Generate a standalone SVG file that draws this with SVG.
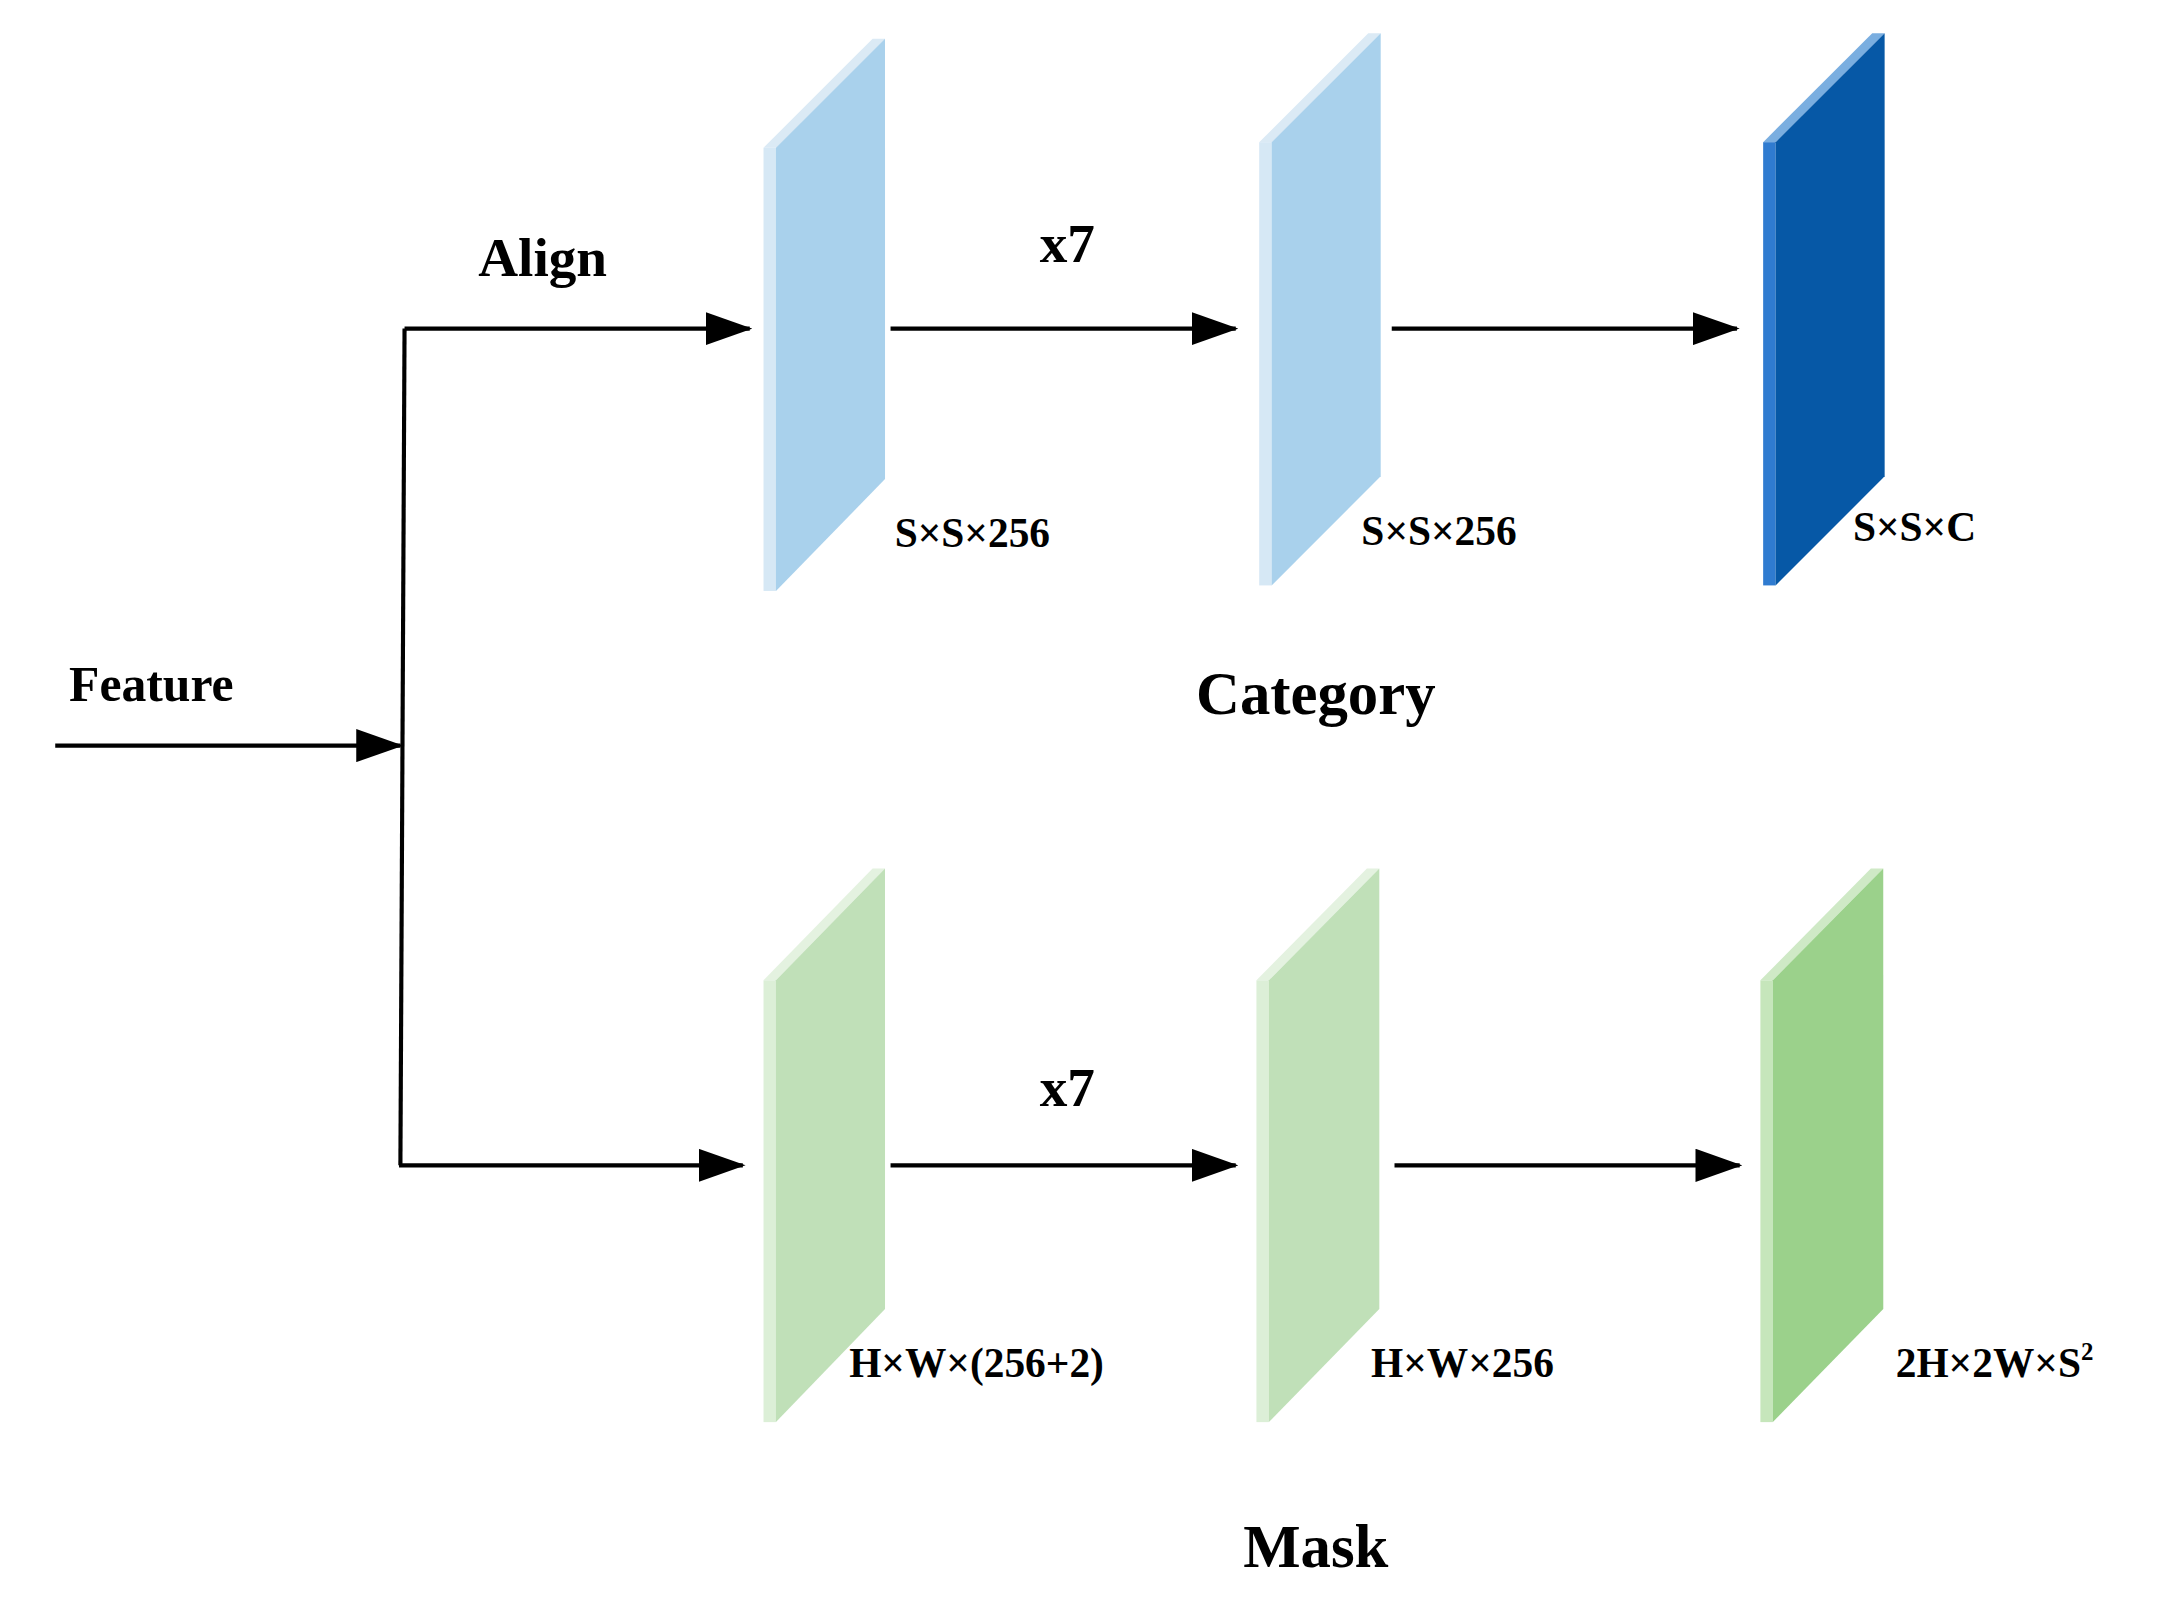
<svg xmlns="http://www.w3.org/2000/svg" width="2165" height="1611" viewBox="0 0 2165 1611">
<defs>
<marker id="ah" markerUnits="userSpaceOnUse" markerWidth="34" markerHeight="24" refX="32" refY="12" orient="auto"><path d="M0,0 L34,12 L0,24 Z" fill="#000"/></marker>
<style>
.l{stroke:#000;stroke-width:3;fill:none}
.a{stroke:#000;stroke-width:3;fill:none;marker-end:url(#ah)}
text{font-family:"Liberation Serif",serif;font-weight:bold;fill:#000}
.big{font-size:44px}
.mid{font-size:40px}
.sm{font-size:30px}
</style>
</defs>
<rect width="2165" height="1611" fill="#fff"/>
<g transform="scale(1.3807)">
<g id="connectors">
<path class="a" d="M40,540 L290,540"/>
<path class="l" d="M293,238 L290,844"/>
<path class="a" d="M293,238 L543,238"/>
<path class="a" d="M289,844 L538,844"/>
<path class="a" d="M645,238 L895,238"/>
<path class="a" d="M1008,238 L1258,238"/>
<path class="a" d="M645,844 L895,844"/>
<path class="a" d="M1010,844 L1260,844"/>
</g>
<g id="p1"><path d="M553,107 L632,28 L641,28 L562,107 Z" fill="#dbeaf5"/><rect x="553" y="107" width="9" height="321" fill="#d6e8f5"/><path d="M562,107 L641,28 L641,347 L562,428 Z" fill="#a9d1ec"/></g>
<g id="p2"><path d="M912,103 L991,24 L1000,24 L921,103 Z" fill="#dbeaf5"/><rect x="912" y="103" width="9" height="321" fill="#d6e8f5"/><path d="M921,103 L1000,24 L1000,345 L921,424 Z" fill="#a9d1ec"/></g>
<g id="p3"><path d="M1277,103 L1356,24 L1365,24 L1286,103 Z" fill="#7aaee0"/><rect x="1277" y="103" width="9" height="321" fill="#2f7bd0"/><path d="M1286,103 L1365,24 L1365,345 L1286,424 Z" fill="#0658a6"/></g>
<g id="p4"><path d="M553,710 L632,629 L641,629 L562,710 Z" fill="#e4f2e0"/><rect x="553" y="710" width="9" height="320" fill="#dcefd7"/><path d="M562,710 L641,629 L641,948 L562,1030 Z" fill="#c0e0b8"/></g>
<g id="p5"><path d="M910,710 L990,629 L999,629 L919,710 Z" fill="#e4f2e0"/><rect x="910" y="710" width="9" height="320" fill="#dcefd7"/><path d="M919,710 L999,629 L999,948 L919,1030 Z" fill="#c0e0b8"/></g>
<g id="p6"><path d="M1275,710 L1355,629 L1364,629 L1284,710 Z" fill="#cfe9c6"/><rect x="1275" y="710" width="9" height="320" fill="#c6e6bb"/><path d="M1284,710 L1364,629 L1364,948 L1284,1030 Z" fill="#9bd18b"/></g>
<g id="labels">
<text class="mid" x="393" y="200" text-anchor="middle">Align</text>
<text class="mid" x="773" y="190" text-anchor="middle">x7</text>
<text class="mid" x="773" y="801" text-anchor="middle">x7</text>
<text class="sm" x="50" y="508" style="font-size:36px">Feature</text>
<text class="sm" x="648" y="396">S×S×256</text>
<text class="sm" x="986" y="395">S×S×256</text>
<text class="sm" x="1342" y="392">S×S×C</text>
<text class="big" x="953" y="517" text-anchor="middle">Category</text>
<text class="sm" x="615" y="997">H×W×(256+2)</text>
<text class="sm" x="993" y="997">H×W×256</text>
<text class="sm" x="1373" y="997">2H×2W×S<tspan dy="-12" style="font-size:18px">2</tspan></text>
<text class="big" x="953" y="1135" text-anchor="middle">Mask</text>
</g>
</g>
</svg>
